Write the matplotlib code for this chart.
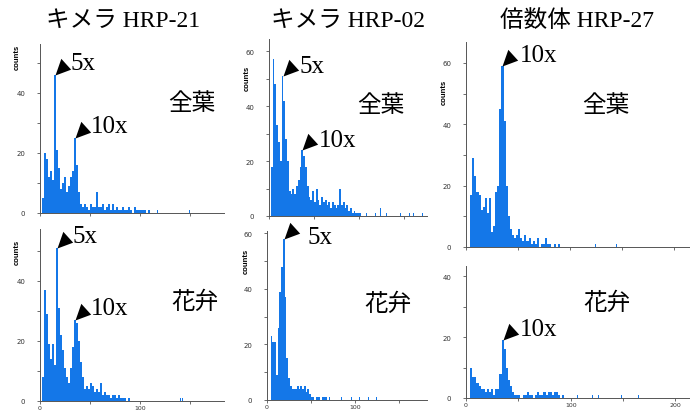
import numpy as np
import matplotlib.pyplot as plt
from matplotlib.path import Path

W, H = 690, 414
BLUE = '#1477e8'

# Column titles and tissue labels
titles = ['キメラ HRP-21', 'キメラ HRP-02', '倍数体 HRP-27']
leaf, petal = '全葉', '花弁'

# Histogram counts, one value per 2-channel bin starting at channel 0
hrp21_leaf = [0, 5, 20, 18, 12, 14, 11, 46, 21, 15, 8, 10, 12, 7, 9, 12, 14, 25, 16, 7,
              3, 2, 3, 2, 1, 3, 2, 2, 7, 2, 2, 3, 1, 2, 3, 1, 3, 1, 2, 1,
              1, 2, 1, 1, 2, 1, 0, 2, 1, 1, 1, 1, 1, 0, 1]
hrp21_leaf_tail_x = [117, 149]
hrp21_leaf_tail_n = [1, 1]

hrp21_petal = [0, 8, 37, 29, 19, 14, 19, 12, 51, 31, 22, 17, 11, 8, 6, 11, 18, 27, 26, 20,
               13, 8, 4, 5, 4, 6, 5, 3, 4, 3, 6, 2, 3, 2, 2, 1, 2, 2, 1, 2,
               1, 1, 1, 0, 1]
hrp21_petal_tail_x = [140, 142]
hrp21_petal_tail_n = [1, 1]

hrp02_leaf = [0, 18, 57, 48, 33, 27, 20, 51, 42, 28, 20, 9, 8, 10, 8, 11, 13, 18, 24, 22,
              18, 11, 7, 6, 9, 5, 10, 6, 4, 7, 5, 6, 4, 5, 3, 5, 4, 3, 4, 10,
              4, 5, 3, 4, 2, 3, 1, 2, 1, 1, 1]
hrp02_leaf_tail_x = [108, 118, 123, 130, 145, 155, 160, 170]
hrp02_leaf_tail_n = [1, 1, 3, 1, 1, 1, 1, 1]

hrp02_petal = [0, 0, 23, 21, 21, 9, 26, 39, 48, 58, 37, 15, 8, 5, 4, 4, 4, 5, 4, 5,
               4, 5, 3, 4, 2, 1, 1, 0, 1, 1, 0, 1, 1, 1, 0, 1]
hrp02_petal_tail_x = [84, 96, 105, 115, 124]
hrp02_petal_tail_n = [1, 1, 1, 1, 1]

hrp27_leaf = [0, 0, 17, 29, 23, 18, 17, 12, 13, 16, 11, 16, 5, 7, 18, 20, 45, 59, 41, 20,
              10, 6, 4, 3, 4, 6, 3, 2, 4, 2, 3, 1, 2, 1, 3, 0, 1, 1, 3, 1,
              1, 0, 1, 0, 1]
hrp27_leaf_tail_x = [124, 144]
hrp27_leaf_tail_n = [1, 1]

hrp27_petal = [0, 0, 10, 7, 7, 5, 4, 3, 3, 2, 3, 2, 3, 1, 3, 3, 8, 19, 16, 10,
               6, 4, 2, 1, 1, 1, 0, 1, 1, 2, 1, 1, 0, 1, 2, 1, 1, 2, 1, 2,
               2, 1, 2, 2, 1, 0, 1]
hrp27_petal_tail_x = [106, 120, 126, 148, 164]
hrp27_petal_tail_n = [1, 1, 1, 1, 1]

fig = plt.figure(figsize=(W / 100, H / 100), dpi=100)

# triangle marker with its tip at the origin, pointing down-left
tri = Path([(0, 0), (0.35, 1.0), (0.94, 0.35), (0, 0)],
           [Path.MOVETO, Path.LINETO, Path.LINETO, Path.CLOSEPOLY])


def px_axes(left, top, right, bottom):
    return fig.add_axes([left / W, 1 - bottom / H, (right - left) / W, (bottom - top) / H])


def peak(counts, lo, hi):
    c = np.asarray(counts)
    i = lo // 2 + int(np.argmax(c[lo // 2:hi // 2]))
    return 2 * i + 1, c[i]


def draw_panel(box, xmax, ymax, counts, tail_x, tail_n, marks, tissue, tissue_px,
               counts_px, bottom_row):
    ax = px_axes(*box)
    edges = np.arange(len(counts)) * 2
    ax.bar(edges, counts, width=2, align='edge', color=BLUE, linewidth=0)
    ax.bar(tail_x, tail_n, width=1.2, align='edge', color=BLUE, linewidth=0)
    ax.set_xlim(0, xmax)
    ax.set_ylim(0, ymax)

    for s in ['top', 'right']:
        ax.spines[s].set_visible(False)
    for s in ['left', 'bottom']:
        ax.spines[s].set_color('#555555')
        ax.spines[s].set_linewidth(0.7)

    ax.set_yticks([v for v in [0, 20, 40, 60] if v <= ymax])
    ax.set_yticks([v for v in [10, 30, 50, 70] if v <= ymax], minor=True)
    ax.set_xticks([v for v in [0, 100, 200] if v <= xmax])
    ax.set_xticks([v for v in [50, 150] if v <= xmax], minor=True)
    ax.tick_params(which='both', direction='out', length=2.5, width=0.6, color='#555555',
                   labelsize=5, labelcolor='#333333')
    ax.tick_params(axis='y', pad=8)
    ax.tick_params(axis='x', pad=0.5, labelsize=4.5, labelbottom=bottom_row)

    for label, lo, hi, (dx, dy) in marks:
        px, py = peak(counts, lo, hi)
        ax.plot(px, py, marker=tri, ms=24, color='black', mew=0, clip_on=False, zorder=5)
        ax.annotate(label, xy=(px, py), xytext=(dx, dy), textcoords='offset points',
                    ha='left', va='center', fontsize=18, family='Liberation Serif')

    fig.text(tissue_px[0] / W, 1 - tissue_px[1] / H, tissue, ha='center', va='center',
             fontsize=17, family=['Noto Sans CJK JP'])
    if counts_px is not None:
        fig.text(counts_px[0] / W, 1 - counts_px[1] / H, 'counts', rotation=90,
                 ha='center', va='center', fontsize=5.5, fontweight='bold',
                 family='Liberation Sans')
    return ax


# column 1
draw_panel((40, 45, 224, 214), 184, 56.3, hrp21_leaf, hrp21_leaf_tail_x, hrp21_leaf_tail_n,
           [('5x', 0, 25, (11.5, 8.6)), ('10x', 25, 50, (11.5, 8.6))],
           leaf, (192, 104), (17, 57), False)
draw_panel((40, 230, 224, 402), 184, 57.3, hrp21_petal, hrp21_petal_tail_x, hrp21_petal_tail_n,
           [('5x', 10, 25, (11.5, 8.6)), ('10x', 25, 50, (11.5, 8.6))],
           petal, (195, 302), (17, 252), True)

# column 2
draw_panel((269, 40, 427, 217), 175.5, 64.4, hrp02_leaf, hrp02_leaf_tail_x, hrp02_leaf_tail_n,
           [('5x', 10, 25, (12.2, 7.2)), ('10x', 25, 50, (12.2, 7.2))],
           leaf, (381, 106), (247, 78), False)
draw_panel((267, 232, 427, 401), 182, 60.8, hrp02_petal, hrp02_petal_tail_x, hrp02_petal_tail_n,
           [('5x', 10, 25, (17.3, 1.4))],
           petal, (388, 304), (246, 261), True)

# column 3
draw_panel((466, 43, 690, 248), 215, 66.8, hrp27_leaf, hrp27_leaf_tail_x, hrp27_leaf_tail_n,
           [('10x', 25, 50, (12.2, 7.9))],
           leaf, (606, 106), (444, 92), False)
draw_panel((466, 267, 690, 399), 214, 43.3, hrp27_petal, hrp27_petal_tail_x, hrp27_petal_tail_n,
           [('10x', 25, 50, (12.2, 7.9))],
           petal, (607, 303), None, True)

# column titles
for title, cx in zip(titles, [123, 348, 577]):
    fig.text(cx / W, 1 - 21 / H, title, ha='center', va='center', fontsize=17,
             family=['Liberation Serif', 'Noto Sans CJK JP'])

fig.savefig('out.png', dpi=100)
